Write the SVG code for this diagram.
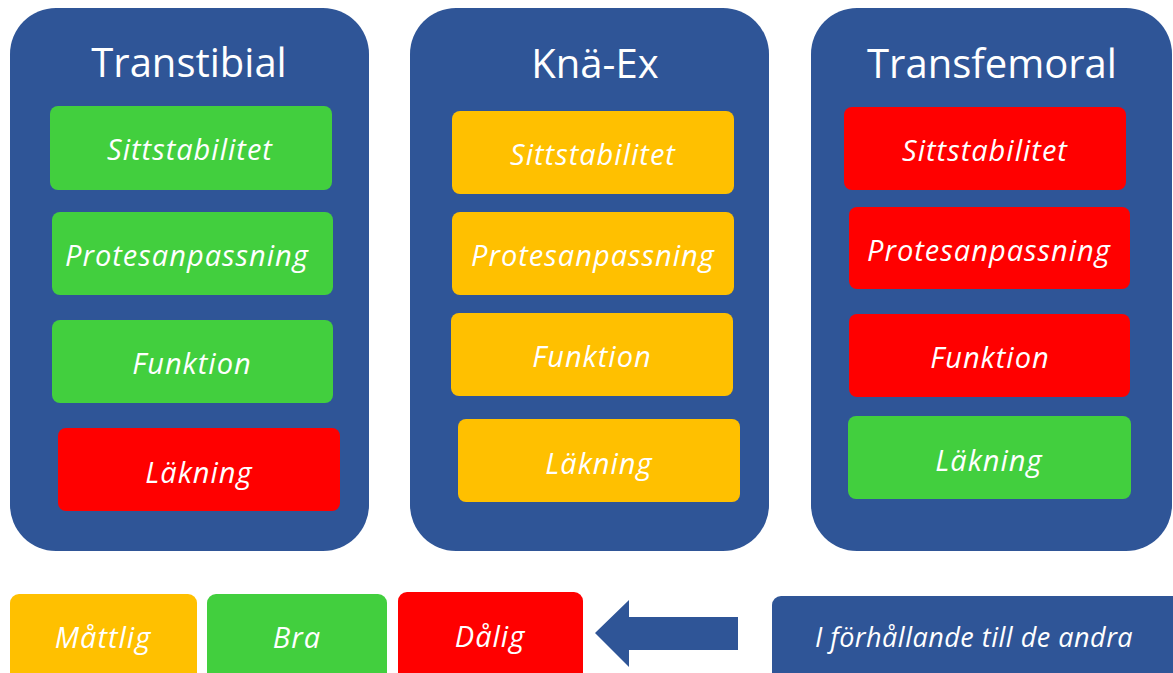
<svg xmlns="http://www.w3.org/2000/svg" width="1173" height="673" viewBox="0 0 1173 673">
<style>
.panel{fill:#2F5597}
.g{fill:#42CF3E}
.o{fill:#FFC000}
.r{fill:#FF0000}
.b{fill:#2F5597}
.title{font-family:"Open Sans","Liberation Sans",sans-serif;font-size:40px;fill:#fff;text-anchor:middle}
.lbl{font-family:"Open Sans","Liberation Sans",sans-serif;font-size:29px;font-style:italic;fill:#fff;text-anchor:middle;letter-spacing:1px}
.leg{font-family:"Open Sans","Liberation Sans",sans-serif;font-size:29px;font-style:italic;fill:#fff;text-anchor:middle;letter-spacing:1px}
.leg2{font-family:"Open Sans","Liberation Sans",sans-serif;font-size:27px;font-style:italic;fill:#fff;text-anchor:middle;letter-spacing:0.5px}
</style>
<rect width="1173" height="673" fill="#fff"/>
<g id="transtibial">
<rect class="panel" x="10" y="8" width="359" height="543" rx="46"/>
<text class="title" x="189" y="77">Transtibial</text>
<rect class="g" x="50" y="106" width="282" height="84" rx="8"/>
<text class="lbl" x="190" y="160">Sittstabilitet</text>
<rect class="g" x="52" y="212" width="281" height="83" rx="8"/>
<text class="lbl" x="187" y="266">Protesanpassning</text>
<rect class="g" x="52" y="320" width="281" height="83" rx="8"/>
<text class="lbl" x="192" y="374">Funktion</text>
<rect class="r" x="58" y="428" width="282" height="83" rx="8"/>
<text class="lbl" x="199" y="483">Läkning</text>
</g>
<g id="knaex">
<rect class="panel" x="410" y="8" width="359" height="543" rx="46"/>
<text class="title" x="595" y="78">Knä-Ex</text>
<rect class="o" x="452" y="111" width="282" height="83" rx="8"/>
<text class="lbl" x="593" y="165">Sittstabilitet</text>
<rect class="o" x="452" y="212" width="282" height="83" rx="8"/>
<text class="lbl" x="593" y="266">Protesanpassning</text>
<rect class="o" x="451" y="313" width="282" height="83" rx="8"/>
<text class="lbl" x="592" y="367">Funktion</text>
<rect class="o" x="458" y="419" width="282" height="83" rx="8"/>
<text class="lbl" x="599" y="474">Läkning</text>
</g>
<g id="transfemoral">
<rect class="panel" x="811" y="8" width="361" height="543" rx="46"/>
<text class="title" x="992" y="78">Transfemoral</text>
<rect class="r" x="844" y="107" width="282" height="83" rx="8"/>
<text class="lbl" x="985" y="161">Sittstabilitet</text>
<rect class="r" x="849" y="207" width="281" height="82" rx="8"/>
<text class="lbl" x="989" y="261">Protesanpassning</text>
<rect class="r" x="849" y="314" width="281" height="83" rx="8"/>
<text class="lbl" x="990" y="368">Funktion</text>
<rect class="g" x="848" y="416" width="283" height="83" rx="8"/>
<text class="lbl" x="989" y="471">Läkning</text>
</g>
<g id="legend-mattlig">
<rect class="o" x="10" y="594" width="187" height="95" rx="9"/>
<text class="leg" x="103" y="648">Måttlig</text>
</g>
<g id="legend-bra">
<rect class="g" x="207" y="594" width="180" height="95" rx="9"/>
<text class="leg" x="297" y="648">Bra</text>
</g>
<g id="legend-dalig">
<rect class="r" x="398" y="592" width="185" height="95" rx="9"/>
<text class="leg" x="490" y="647">Dålig</text>
</g>
<g id="connectors">
<polygon class="b" points="595,633 629,600 629,617 738,617 738,650 629,650 629,667"/>
</g>
<g id="legend-note">
<rect class="b" x="772" y="596" width="415" height="95" rx="9"/>
<text class="leg2" x="974" y="647">I förhållande till de andra</text>
</g>
</svg>
